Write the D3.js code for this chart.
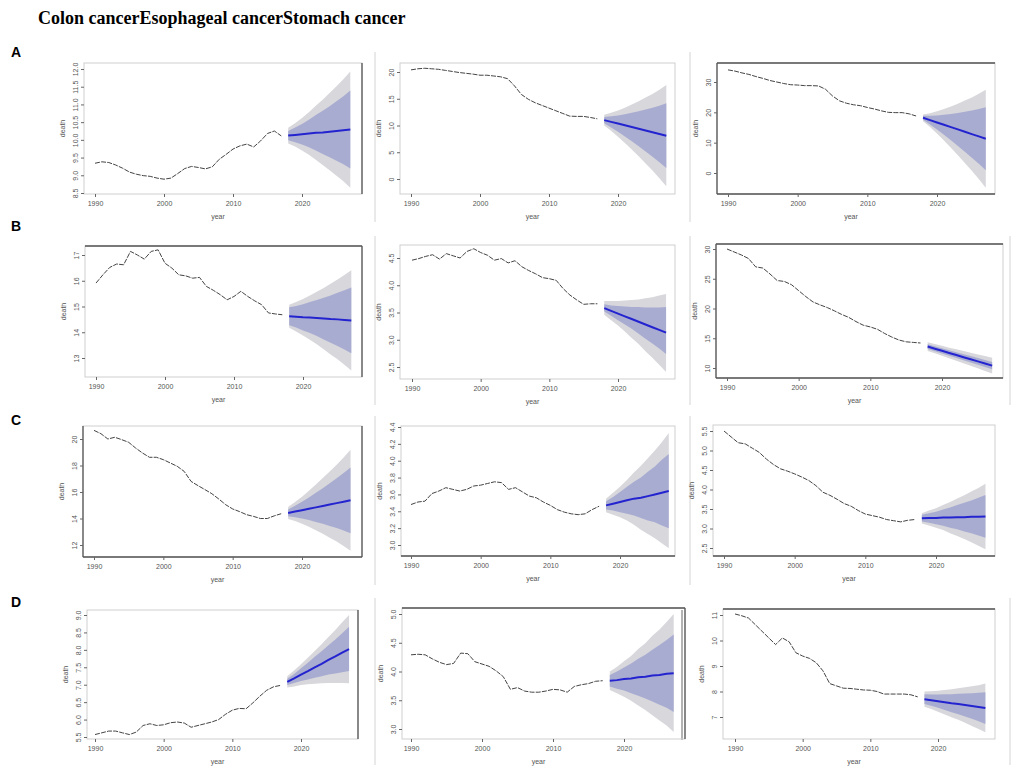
<!DOCTYPE html>
<html>
<head>
<meta charset="utf-8">
<script src="https://cdn.jsdelivr.net/npm/d3@7"></script>
<style>
  body { margin: 0; background: #fff; }
  svg { display: block; }
</style>
</head>
<body>
<svg width="1021" height="769"></svg>
<script>
// observed years and forecast years
var years = [1990, 1991, 1992, 1993, 1994, 1995, 1996, 1997, 1998, 1999,
             2000, 2001, 2002, 2003, 2004, 2005, 2006, 2007, 2008, 2009,
             2010, 2011, 2012, 2013, 2014, 2015, 2016, 2017];
var fcYears = [2018, 2019, 2020, 2021, 2022, 2023, 2024, 2025, 2026, 2027];
var xTicks = [1990, 2000, 2010, 2020];

var columnTitles = ['Colon cancer', 'Esophageal cancer', 'Stomach cancer'];
var rowLetters = ['A', 'B', 'C', 'D'];

// ---- row A ----
var colonA = [9.34, 9.38, 9.36, 9.29, 9.20, 9.09, 9.03, 8.99, 8.97, 8.92, 8.89, 8.92, 9.05, 9.19, 9.25, 9.22, 9.18, 9.24, 9.45, 9.59, 9.74, 9.83, 9.88, 9.80, 9.97, 10.18, 10.25, 10.11];
var colonA_fc   = [10.12, 10.14, 10.16, 10.18, 10.20, 10.21, 10.23, 10.25, 10.27, 10.29];
var colonA_hi80 = [10.25, 10.35, 10.45, 10.57, 10.70, 10.82, 10.95, 11.09, 11.23, 11.39];
var colonA_lo80 = [9.99, 9.93, 9.87, 9.79, 9.70, 9.60, 9.51, 9.41, 9.31, 9.19];
var colonA_hi95 = [10.34, 10.47, 10.62, 10.78, 10.96, 11.13, 11.32, 11.51, 11.71, 11.93];
var colonA_lo95 = [9.90, 9.81, 9.70, 9.58, 9.44, 9.29, 9.14, 8.99, 8.83, 8.65];

var esophA = [20.4, 20.6, 20.7, 20.6, 20.5, 20.3, 20.1, 19.9, 19.75, 19.6, 19.4, 19.4, 19.25, 19.1, 18.75, 17.4, 15.8, 14.9, 14.25, 13.75, 13.25, 12.75, 12.25, 11.75, 11.7, 11.7, 11.5, 11.25];
var esophA_fc   = [11.0, 10.68, 10.36, 10.03, 9.71, 9.39, 9.07, 8.74, 8.42, 8.1];
var esophA_hi80 = [11.6, 11.72, 11.89, 12.10, 12.38, 12.66, 12.99, 13.32, 13.71, 14.15];
var esophA_lo80 = [10.4, 9.64, 8.83, 7.96, 7.04, 6.12, 5.15, 4.16, 3.13, 2.05];
var esophA_hi95 = [12.0, 12.36, 12.80, 13.31, 13.92, 14.53, 15.22, 15.91, 16.69, 17.55];
var esophA_lo95 = [10.0, 9.0, 7.92, 6.75, 5.5, 4.25, 2.92, 1.57, 0.15, -1.35];

var stomA = [34.0, 33.6, 33.0, 32.5, 31.8, 31.2, 30.5, 30.0, 29.5, 29.1, 29.0, 28.8, 28.8, 28.7, 27.6, 25.4, 23.8, 23.0, 22.5, 22.2, 21.6, 21.1, 20.5, 20.0, 19.9, 19.9, 19.5, 18.8];
var stomA_fc   = [18.2, 17.43, 16.67, 15.9, 15.13, 14.37, 13.6, 12.83, 12.07, 11.3];
var stomA_hi80 = [18.85, 18.86, 18.98, 19.18, 19.49, 19.80, 20.20, 20.60, 21.11, 21.7];
var stomA_lo80 = [17.55, 16.0, 14.36, 12.62, 10.77, 8.94, 7.0, 5.06, 3.03, 0.9];
var stomA_hi95 = [19.3, 19.73, 20.33, 21.06, 21.95, 22.85, 23.88, 24.92, 26.11, 27.45];
var stomA_lo95 = [17.1, 15.13, 13.01, 10.74, 8.31, 5.89, 3.32, 0.74, -1.97, -4.85];

// ---- row B ----
var colonB = [15.91, 16.23, 16.52, 16.65, 16.62, 17.14, 17.0, 16.84, 17.14, 17.2, 16.68, 16.49, 16.23, 16.19, 16.1, 16.13, 15.78, 15.63, 15.46, 15.26, 15.39, 15.59, 15.39, 15.22, 15.07, 14.75, 14.71, 14.68];
var colonB_fc   = [14.62, 14.60, 14.58, 14.57, 14.55, 14.53, 14.51, 14.50, 14.48, 14.46];
var colonB_hi80 = [14.97, 15.02, 15.09, 15.17, 15.25, 15.34, 15.43, 15.53, 15.63, 15.74];
var colonB_lo80 = [14.27, 14.18, 14.07, 13.97, 13.85, 13.72, 13.59, 13.47, 13.33, 13.18];
var colonB_hi95 = [15.07, 15.17, 15.29, 15.43, 15.57, 15.72, 15.88, 16.05, 16.22, 16.41];
var colonB_lo95 = [14.17, 14.03, 13.87, 13.71, 13.53, 13.34, 13.14, 12.95, 12.74, 12.51];

var esophB = [4.46, 4.49, 4.53, 4.56, 4.48, 4.58, 4.54, 4.50, 4.62, 4.67, 4.60, 4.55, 4.46, 4.49, 4.41, 4.45, 4.34, 4.27, 4.21, 4.14, 4.12, 4.09, 3.94, 3.82, 3.73, 3.65, 3.66, 3.66];
var esophB_fc   = [3.58, 3.53, 3.48, 3.43, 3.38, 3.33, 3.28, 3.23, 3.18, 3.13];
var esophB_hi80 = [3.65, 3.63, 3.62, 3.61, 3.60, 3.60, 3.59, 3.59, 3.59, 3.60];
var esophB_lo80 = [3.52, 3.44, 3.36, 3.28, 3.20, 3.11, 3.02, 2.93, 2.84, 2.74];
var esophB_hi95 = [3.71, 3.71, 3.71, 3.72, 3.73, 3.74, 3.76, 3.78, 3.81, 3.84];
var esophB_lo95 = [3.46, 3.36, 3.26, 3.15, 3.03, 2.92, 2.79, 2.67, 2.54, 2.41];

var stomB = [30.0, 29.5, 29.0, 28.4, 27.0, 26.8, 25.8, 24.7, 24.55, 24.0, 23.0, 22.0, 21.1, 20.6, 20.15, 19.6, 19.0, 18.5, 17.8, 17.2, 16.9, 16.5, 15.8, 15.2, 14.7, 14.4, 14.3, 14.2];
var stomB_fc   = [13.6, 13.24, 12.89, 12.53, 12.18, 11.82, 11.47, 11.11, 10.76, 10.4];
var stomB_hi80 = [14.0, 13.66, 13.33, 12.99, 12.66, 12.33, 12.0, 11.67, 11.35, 11.02];
var stomB_lo80 = [13.2, 12.82, 12.45, 12.07, 11.7, 11.31, 10.94, 10.55, 10.17, 9.78];
var stomB_hi95 = [14.33, 14.02, 13.72, 13.42, 13.14, 12.84, 12.57, 12.28, 12.01, 11.73];
var stomB_lo95 = [12.87, 12.46, 12.06, 11.64, 11.22, 10.8, 10.37, 9.94, 9.51, 9.07];

// ---- row C ----
var colonC = [20.65, 20.4, 20.0, 20.13, 19.95, 19.75, 19.32, 18.94, 18.62, 18.62, 18.44, 18.19, 17.94, 17.56, 16.8, 16.48, 16.18, 15.87, 15.47, 15.04, 14.72, 14.52, 14.29, 14.16, 14.0, 14.0, 14.2, 14.36];
var colonC_fc   = [14.42, 14.53, 14.63, 14.74, 14.84, 14.95, 15.05, 15.16, 15.26, 15.37];
var colonC_hi80 = [14.67, 14.96, 15.26, 15.59, 15.94, 16.29, 16.66, 17.04, 17.43, 17.85];
var colonC_lo80 = [14.17, 14.10, 14.0, 13.89, 13.74, 13.61, 13.44, 13.28, 13.09, 12.89];
var colonC_hi95 = [14.87, 15.25, 15.65, 16.10, 16.57, 17.05, 17.55, 18.06, 18.60, 19.18];
var colonC_lo95 = [13.97, 13.81, 13.61, 13.38, 13.11, 12.85, 12.55, 12.26, 11.92, 11.56];

var esophC = [3.48, 3.51, 3.52, 3.61, 3.64, 3.68, 3.66, 3.64, 3.66, 3.70, 3.71, 3.73, 3.75, 3.74, 3.66, 3.68, 3.63, 3.58, 3.56, 3.51, 3.47, 3.42, 3.39, 3.37, 3.36, 3.37, 3.42, 3.46];
var esophC_fc   = [3.47, 3.49, 3.51, 3.53, 3.55, 3.56, 3.58, 3.60, 3.62, 3.64];
var esophC_hi80 = [3.52, 3.57, 3.63, 3.69, 3.75, 3.80, 3.87, 3.93, 4.01, 4.08];
var esophC_lo80 = [3.42, 3.41, 3.39, 3.37, 3.35, 3.32, 3.29, 3.27, 3.23, 3.20];
var esophC_hi95 = [3.55, 3.62, 3.69, 3.77, 3.86, 3.94, 4.03, 4.12, 4.22, 4.33];
var esophC_lo95 = [3.39, 3.36, 3.33, 3.29, 3.24, 3.18, 3.13, 3.08, 3.02, 2.96];

var stomC = [5.5, 5.35, 5.2, 5.17, 5.06, 4.95, 4.78, 4.64, 4.53, 4.47, 4.4, 4.32, 4.23, 4.1, 3.93, 3.85, 3.75, 3.64, 3.57, 3.46, 3.37, 3.33, 3.29, 3.23, 3.2, 3.17, 3.21, 3.23];
var stomC_fc   = [3.26, 3.27, 3.27, 3.28, 3.28, 3.29, 3.29, 3.30, 3.30, 3.31];
var stomC_hi80 = [3.35, 3.39, 3.43, 3.49, 3.54, 3.60, 3.66, 3.72, 3.79, 3.86];
var stomC_lo80 = [3.18, 3.15, 3.11, 3.07, 3.02, 2.98, 2.92, 2.88, 2.82, 2.76];
var stomC_hi95 = [3.39, 3.46, 3.52, 3.60, 3.68, 3.77, 3.85, 3.95, 4.04, 4.15];
var stomC_lo95 = [3.13, 3.08, 3.02, 2.96, 2.88, 2.81, 2.73, 2.65, 2.56, 2.47];

// ---- row D ----
var colonD = [5.57, 5.62, 5.67, 5.67, 5.62, 5.57, 5.64, 5.83, 5.88, 5.83, 5.85, 5.91, 5.93, 5.90, 5.78, 5.83, 5.88, 5.93, 6.00, 6.15, 6.27, 6.32, 6.31, 6.48, 6.67, 6.84, 6.94, 6.98];
var colonD_fc   = [7.08, 7.18, 7.29, 7.39, 7.50, 7.60, 7.71, 7.81, 7.92, 8.02];
var colonD_hi80 = [7.17, 7.31, 7.47, 7.63, 7.80, 7.96, 8.13, 8.30, 8.48, 8.66];
var colonD_lo80 = [6.99, 7.05, 7.11, 7.15, 7.20, 7.24, 7.29, 7.32, 7.36, 7.39];
var colonD_hi95 = [7.24, 7.41, 7.59, 7.77, 7.97, 8.16, 8.37, 8.57, 8.79, 9.0];
var colonD_lo95 = [6.92, 6.95, 6.99, 7.01, 7.03, 7.04, 7.05, 7.05, 7.05, 7.04];

var esophD = [4.29, 4.30, 4.29, 4.22, 4.16, 4.12, 4.14, 4.32, 4.31, 4.17, 4.13, 4.09, 4.01, 3.91, 3.69, 3.72, 3.66, 3.64, 3.64, 3.66, 3.69, 3.68, 3.64, 3.74, 3.77, 3.79, 3.83, 3.84];
var esophD_fc   = [3.84, 3.85, 3.87, 3.88, 3.90, 3.91, 3.93, 3.94, 3.96, 3.97];
var esophD_hi80 = [3.94, 4.0, 4.07, 4.14, 4.22, 4.29, 4.38, 4.46, 4.55, 4.645];
var esophD_lo80 = [3.74, 3.70, 3.67, 3.62, 3.58, 3.53, 3.48, 3.42, 3.37, 3.295];
var esophD_hi95 = [4.0, 4.08, 4.18, 4.27, 4.39, 4.49, 4.62, 4.73, 4.86, 5.0];
var esophD_lo95 = [3.68, 3.62, 3.56, 3.49, 3.41, 3.33, 3.24, 3.15, 3.06, 2.95];

var stomD = [11.04, 10.97, 10.88, 10.62, 10.36, 10.1, 9.84, 10.1, 9.95, 9.52, 9.39, 9.3, 9.13, 8.81, 8.31, 8.22, 8.13, 8.12, 8.09, 8.06, 8.05, 8.0, 7.9, 7.9, 7.9, 7.9, 7.87, 7.79];
var stomD_fc   = [7.70, 7.66, 7.62, 7.58, 7.54, 7.51, 7.47, 7.43, 7.39, 7.35];
var stomD_hi80 = [7.89, 7.88, 7.88, 7.89, 7.89, 7.91, 7.92, 7.93, 7.95, 7.97];
var stomD_lo80 = [7.51, 7.44, 7.36, 7.27, 7.19, 7.11, 7.02, 6.93, 6.83, 6.73];
var stomD_hi95 = [8.0, 8.01, 8.03, 8.06, 8.09, 8.13, 8.17, 8.21, 8.25, 8.31];
var stomD_lo95 = [7.4, 7.31, 7.21, 7.10, 6.99, 6.89, 6.77, 6.65, 6.53, 6.40];

// y tick values of each panel
var ticksColonA = [8.5, 9.0, 9.5, 10.0, 10.5, 11.0, 11.5, 12.0];
var ticksEsophA = [0, 5, 10, 15, 20];
var ticksStomA  = [0, 10, 20, 30];
var ticksColonB = [13, 14, 15, 16, 17];
var ticksEsophB = [2.5, 3.0, 3.5, 4.0, 4.5];
var ticksStomB  = [10, 15, 20, 25, 30];
var ticksColonC = [12, 14, 16, 18, 20];
var ticksEsophC = [3.0, 3.2, 3.4, 3.6, 3.8, 4.0, 4.2, 4.4];
var ticksStomC  = [2.5, 3.0, 3.5, 4.0, 4.5, 5.0, 5.5];
var ticksColonD = [5.5, 6.0, 6.5, 7.0, 7.5, 8.0, 8.5, 9.0];
var ticksEsophD = [3.0, 3.5, 4.0, 4.5, 5.0];
var ticksStomD  = [7, 8, 9, 10, 11];

// panel layout: box = [left, top, right, bottom], xr = pixels of 1990 / 2020,
// yr = pixels of first / last y tick, dark = box sides drawn darker
var panels = [
  {obs: colonA, fc: colonA_fc, lo80: colonA_lo80, hi80: colonA_hi80, lo95: colonA_lo95, hi95: colonA_hi95, yt: ticksColonA,
   box: [84, 63, 362, 194], xr: [95, 302], yr: [193, 69], dark: ['right']},
  {obs: esophA, fc: esophA_fc, lo80: esophA_lo80, hi80: esophA_hi80, lo95: esophA_lo95, hi95: esophA_hi95, yt: ticksEsophA,
   box: [400, 63, 675, 194], xr: [411, 618], yr: [179, 72], dark: []},
  {obs: stomA, fc: stomA_fc, lo80: stomA_lo80, hi80: stomA_hi80, lo95: stomA_lo95, hi95: stomA_hi95, yt: ticksStomA,
   box: [717, 63, 995, 194], xr: [728, 937], yr: [173, 82], dark: ['top', 'left', 'bottom']},

  {obs: colonB, fc: colonB_fc, lo80: colonB_lo80, hi80: colonB_hi80, lo95: colonB_lo95, hi95: colonB_hi95, yt: ticksColonB,
   box: [85, 246, 362, 377], xr: [96, 303], yr: [358, 255], dark: ['top', 'right']},
  {obs: esophB, fc: esophB_fc, lo80: esophB_lo80, hi80: esophB_hi80, lo95: esophB_lo95, hi95: esophB_hi95, yt: ticksEsophB,
   box: [400, 245, 675, 379], xr: [412, 618], yr: [367, 258], dark: []},
  {obs: stomB, fc: stomB_fc, lo80: stomB_lo80, hi80: stomB_hi80, lo95: stomB_lo95, hi95: stomB_hi95, yt: ticksStomB,
   box: [716, 244, 1003, 378], xr: [727, 942], yr: [368, 249], dark: ['top', 'left', 'bottom']},

  {obs: colonC, fc: colonC_fc, lo80: colonC_lo80, hi80: colonC_hi80, lo95: colonC_lo95, hi95: colonC_hi95, yt: ticksColonC,
   box: [83, 426, 362, 557], xr: [94, 302], yr: [545, 439], dark: ['left', 'bottom', 'right']},
  {obs: esophC, fc: esophC_fc, lo80: esophC_lo80, hi80: esophC_hi80, lo95: esophC_lo95, hi95: esophC_hi95, yt: ticksEsophC,
   box: [401, 426, 675, 556], xr: [411, 620], yr: [545, 427], dark: ['bottom']},
  {obs: stomC, fc: stomC_fc, lo80: stomC_lo80, hi80: stomC_hi80, lo95: stomC_lo95, hi95: stomC_hi95, yt: ticksStomC,
   box: [713, 425, 995, 556], xr: [724, 936], yr: [548, 431], dark: ['bottom']},

  {obs: colonD, fc: colonD_fc, lo80: colonD_lo80, hi80: colonD_hi80, lo95: colonD_lo95, hi95: colonD_hi95, yt: ticksColonD,
   box: [87, 610, 358, 739], xr: [95, 301], yr: [737, 615], dark: ['right']},
  {obs: esophD, fc: esophD_fc, lo80: esophD_lo80, hi80: esophD_hi80, lo95: esophD_lo95, hi95: esophD_hi95, yt: ticksEsophD,
   box: [402, 608, 685, 739], xr: [411, 624], yr: [729, 614], dark: ['top', 'right']},
  {obs: stomD, fc: stomD_fc, lo80: stomD_lo80, hi80: stomD_hi80, lo95: stomD_lo95, hi95: stomD_hi95, yt: ticksStomD,
   box: [723, 609, 995, 739], xr: [735, 938], yr: [717, 615], dark: ['top']}
];

// thin frame lines left from the pasted sub-images
var frames = [
  {x: 375, y1: 52, y2: 222}, {x: 690, y1: 52, y2: 222},
  {x: 375, y1: 236, y2: 405}, {x: 690, y1: 236, y2: 405}, {x: 1010, y1: 236, y2: 405},
  {x: 375, y1: 416, y2: 585}, {x: 690, y1: 416, y2: 585},
  {x: 375, y1: 598, y2: 765}, {x: 682, y1: 610, y2: 740}, {x: 1010, y1: 598, y2: 765}
];
var letterY = [57, 231, 425, 607];

var svg = d3.select('svg');
svg.append('rect').attr('width', 1021).attr('height', 769).attr('fill', '#fff');

svg.append('text')
  .attr('x', 38).attr('y', 24)
  .style('font-family', '"Liberation Serif", "Times New Roman", serif')
  .style('font-weight', 'bold')
  .style('font-size', '18px')
  .text(columnTitles.join(''));

svg.selectAll('.letter')
  .data(rowLetters)
  .enter()
  .append('text')
  .attr('class', 'letter')
  .attr('x', 11)
  .attr('y', function(d, i) { return letterY[i]; })
  .style('font-family', '"Liberation Sans", Arial, sans-serif')
  .style('font-weight', 'bold')
  .style('font-size', '14px')
  .text(function(d) { return d; });

svg.selectAll('.frame')
  .data(frames)
  .enter()
  .append('line')
  .attr('class', 'frame')
  .attr('x1', function(d) { return d.x; }).attr('x2', function(d) { return d.x; })
  .attr('y1', function(d) { return d.y1; }).attr('y2', function(d) { return d.y2; })
  .style('stroke', function(d) { return d.x == 682 ? '#666' : '#d4d4d4'; })
  .style('stroke-width', 1);

var tickFont = '"Liberation Sans", Arial, sans-serif';

function drawPanel(p) {
  var g = svg.append('g');
  var l = p.box[0], t = p.box[1], r = p.box[2], b = p.box[3];

  var x = d3.scaleLinear().domain([1990, 2020]).range(p.xr);
  var y = d3.scaleLinear().domain([p.yt[0], p.yt[p.yt.length - 1]]).range(p.yr);

  var fcRows = fcYears.map(function(yr, i) {
    return {yr: yr, m: p.fc[i], lo80: p.lo80[i], hi80: p.hi80[i], lo95: p.lo95[i], hi95: p.hi95[i]};
  });
  var obsRows = years.map(function(yr, i) { return {yr: yr, v: p.obs[i]}; });

  // plot box
  g.append('rect')
    .attr('x', l).attr('y', t).attr('width', r - l).attr('height', b - t)
    .style('fill', 'none').style('stroke', '#cfcfcf').style('stroke-width', 1);
  var sides = {
    top: [l, t, r, t], bottom: [l, b, r, b], left: [l, t, l, b], right: [r, t, r, b]
  };
  p.dark.forEach(function(s) {
    var c = sides[s];
    g.append('line')
      .attr('x1', c[0]).attr('y1', c[1]).attr('x2', c[2]).attr('y2', c[3])
      .style('stroke', '#555').style('stroke-width', 1.3);
  });

  // prediction intervals
  var band = function(lo, hi) {
    return d3.area()
      .x(function(d) { return x(d.yr); })
      .y0(function(d) { return y(d[lo]); })
      .y1(function(d) { return y(d[hi]); });
  };
  g.append('path').datum(fcRows).attr('d', band('lo95', 'hi95')).style('fill', '#d7d7dc');
  g.append('path').datum(fcRows).attr('d', band('lo80', 'hi80')).style('fill', '#a9acd1');

  // observed series
  g.append('path').datum(obsRows)
    .attr('d', d3.line().x(function(d) { return x(d.yr); }).y(function(d) { return y(d.v); }))
    .style('fill', 'none').style('stroke', '#444').style('stroke-width', 1)
    .style('stroke-dasharray', '5,1.2');

  // point forecast
  g.append('path').datum(fcRows)
    .attr('d', d3.line().x(function(d) { return x(d.yr); }).y(function(d) { return y(d.m); }))
    .style('fill', 'none').style('stroke', '#2323cf').style('stroke-width', 2);

  // x axis
  var xa = g.append('g').attr('transform', 'translate(0,' + b + ')')
    .call(d3.axisBottom(x).tickValues(xTicks).tickSize(3).tickPadding(4).tickFormat(d3.format('d')));
  xa.select('.domain').remove();
  xa.selectAll('line').style('stroke', '#666');
  xa.selectAll('text').style('font-family', tickFont).style('font-size', '7px').style('fill', '#555');

  // y axis, labels parallel to the axis as in base R
  var dec = p.yt.some(function(v) { return v % 1 !== 0; });
  var ya = g.append('g').attr('transform', 'translate(' + l + ',0)')
    .call(d3.axisLeft(y).tickValues(p.yt).tickSize(3).tickFormat(d3.format(dec ? '.1f' : 'd')));
  ya.select('.domain').remove();
  ya.selectAll('line').style('stroke', '#666');
  ya.selectAll('text')
    .attr('x', null).attr('dy', null)
    .attr('transform', 'translate(-6.5,0) rotate(-90)')
    .attr('text-anchor', 'middle')
    .style('font-family', tickFont).style('font-size', '7px').style('fill', '#555');

  // axis titles
  g.append('text')
    .attr('x', (l + r) / 2 - 5).attr('y', b + 25)
    .attr('text-anchor', 'middle')
    .style('font-family', tickFont).style('font-size', '7px').style('fill', '#555')
    .text('year');
  g.append('text')
    .attr('transform', 'translate(' + (l - 19) + ',' + ((t + b) / 2) + ') rotate(-90)')
    .attr('text-anchor', 'middle')
    .style('font-family', tickFont).style('font-size', '7px').style('fill', '#555')
    .text('death');
}

panels.forEach(drawPanel);
</script>
</body>
</html>
